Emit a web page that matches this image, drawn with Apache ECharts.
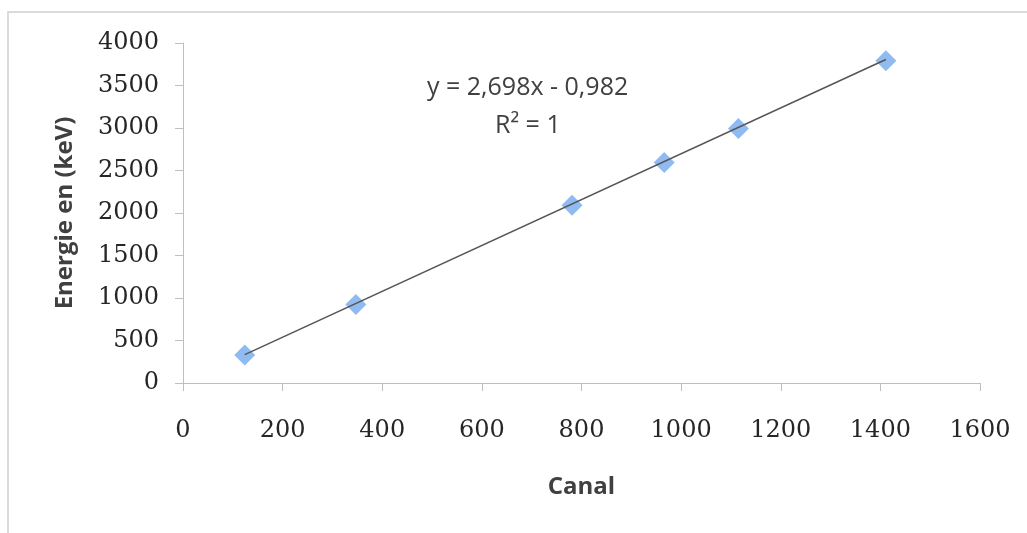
<!DOCTYPE html>
<html lang="fr">
<head>
  <meta charset="utf-8">
  <title>Energie en fonction du canal</title>
  <script src="https://cdn.jsdelivr.net/npm/echarts@6/dist/echarts.min.js"></script>
  <style>
    html, body { margin: 0; padding: 0; background: #fff; }
    #chart { width: 1027px; height: 533px; }
  </style>
</head>
<body>
<div id="chart"></div>

<script>
// points mesurés (canal, énergie en keV)
var canaux = [124, 347, 781, 966, 1115, 1411];
var energies = [330, 925, 2090, 2595, 2995, 3790];

// courbe de tendance, extrémités
var tendanceX = [124, 1411];
var tendanceY = [334, 3806];

var equation = 'y = 2,698x - 0,982';
var r2 = 'R² = 1';

var points = canaux.map(function (c, i) { return [c, energies[i]]; });
var tendance = tendanceX.map(function (c, i) { return [c, tendanceY[i]]; });

// pas de séparateur de milliers
function brut(v) { return String(v); }

var chart = echarts.init(document.getElementById('chart'));

var option = {
  animation: false,
  backgroundColor: '#fff',
  grid: { left: 183, right: 47, top: 43, bottom: 150 },
  xAxis: {
    type: 'value',
    min: 0, max: 1600, interval: 200,
    name: 'Canal',
    nameLocation: 'middle',
    nameGap: 92,
    nameTextStyle: { fontFamily: 'Open Sans', fontWeight: 'bold', fontSize: 24, color: '#404040' },
    axisLine: { show: true, lineStyle: { color: '#bfbfbf', width: 1 } },
    axisTick: { show: true, length: 8, lineStyle: { color: '#bfbfbf' } },
    axisLabel: { margin: 36, fontFamily: 'DejaVu Serif', fontSize: 24, color: '#262626', formatter: brut },
    splitLine: { show: false }
  },
  yAxis: {
    type: 'value',
    min: 0, max: 4000, interval: 500,
    name: 'Energie en (keV)',
    nameLocation: 'middle',
    nameGap: 106,
    nameTextStyle: { fontFamily: 'Open Sans', fontWeight: 'bold', fontSize: 24, color: '#404040' },
    axisLine: { show: true, lineStyle: { color: '#bfbfbf', width: 1 } },
    axisTick: { show: true, length: 8, lineStyle: { color: '#bfbfbf' } },
    axisLabel: { margin: 24, fontFamily: 'DejaVu Serif', fontSize: 24, color: '#262626', formatter: brut },
    splitLine: { show: false }
  },
  graphic: [
    {
      type: 'rect', silent: true, z: -1,
      shape: { x: 8, y: 12, width: 1200, height: 700 },
      style: { fill: 'none', stroke: '#d0d0d0', lineWidth: 1.5 }
    },
    {
      type: 'text', left: 427, top: 75,
      style: { text: equation, fontFamily: 'Open Sans', fontSize: 25, fill: '#404040' }
    },
    {
      type: 'text', left: 495, top: 113,
      style: { text: r2, fontFamily: 'Open Sans', fontSize: 25, fill: '#404040' }
    }
  ],
  series: [
    {
      type: 'scatter',
      data: points,
      symbol: 'diamond',
      symbolSize: 21,
      itemStyle: { color: '#74aaee' },
      z: 2
    },
    {
      type: 'line',
      data: tendance,
      symbol: 'none',
      lineStyle: { color: '#555555', width: 1.5 },
      z: 3
    }
  ]
};

chart.setOption(option);
</script>
</body>
</html>
